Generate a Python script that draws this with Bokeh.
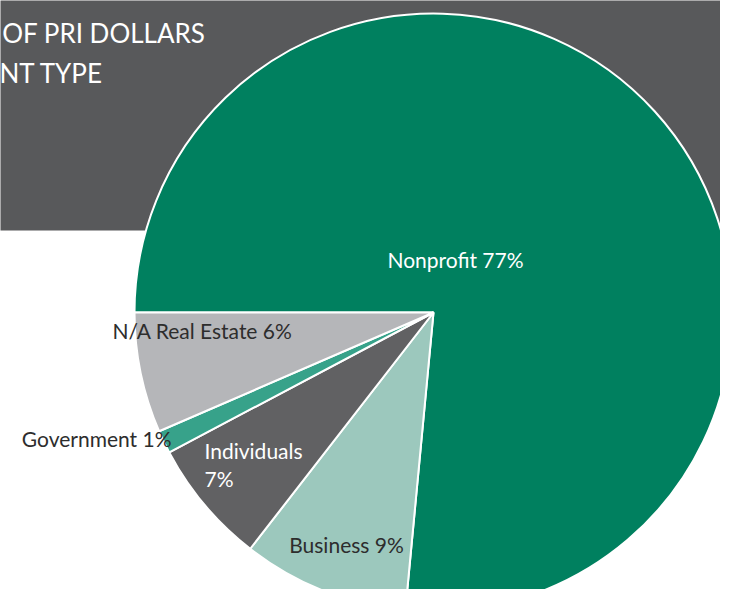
import numpy as np
from bokeh.plotting import figure
from bokeh.models import Range1d, BoxAnnotation
from bokeh.core.properties import value
from bokeh.embed import file_html
from bokeh.resources import INLINE

# ---- data ----
categories = ["Nonprofit", "Business", "Individuals", "Government", "N/A Real Estate"]
shares = [76.5, 9.0, 6.75, 1.25, 6.5]
pct_labels = ["77%", "9%", "7%", "1%", "6%"]
title_lines = ["OF PRI DOLLARS", "NT TYPE"]

# ---- style / layout ----
colors = ["#00805F", "#9CC8BD", "#616163", "#37A28A", "#B5B6B9"]
label_colors = ["white", "#2d2d2d", "white", "#2d2d2d", "#2d2d2d"]
# label anchors in reference pixels (x, first-line anchor y) and alignment
label_x = [455, 346, 204, 171, 202]
label_y = [259, 544, 450, 438, 330]
label_align = ["center", "center", "left", "right", "center"]
label_text = [f"{c} {p}" if c != "Individuals" else f"{c}\n{p}"
              for c, p in zip(categories, pct_labels)]

W, H, M = 736, 605, 8
FW, FH = W - 2 * M, H - 2 * M
CX, CY, R = 433, 312, 299
BANNER_BOTTOM = 230
FONT = "Lato"
LINE_STEP = 28

def Y(py):
    return H - py

p = figure(width=FW, height=FH,
           x_range=Range1d(0, FW), y_range=Range1d(H - FH, H),
           output_backend="svg", toolbar_location=None, min_border=0,
           x_axis_type=None, y_axis_type=None)
p.grid.visible = False
p.outline_line_color = None
p.background_fill_color = "white"
p.border_fill_color = "white"

banner = BoxAnnotation(left=-50, right=W + 50, bottom=Y(BANNER_BOTTOM), top=H + 50,
                       fill_color="#58595B", fill_alpha=1.0, line_alpha=0,
                       level="underlay")
p.add_layout(banner)

# title (cut off at left edge, as in reference)
title_right = [205, 103]
title_base = [32, 72]
for t, xr, yb in zip(title_lines, title_right, title_base):
    p.text(x=[xr], y=[Y(yb)], text=[t], text_font=value(FONT), text_font_size="26px",
           text_color="white", text_align="right", text_baseline="alphabetic")

# pie
vals = np.array(shares, dtype=float)
frac = vals / vals.sum()
cum = np.cumsum(frac)
starts = np.pi - 2 * np.pi * (cum - frac)
ends = np.pi - 2 * np.pi * cum
p.wedge(x=[CX] * len(vals), y=[Y(CY)] * len(vals), radius=R,
        start_angle=list(starts), end_angle=list(ends), direction="clock",
        fill_color=colors, line_color="white", line_width=2)

# labels
for t, x, y, a, c in zip(label_text, label_x, label_y, label_align, label_colors):
    for i, line in enumerate(t.split("\n")):
        p.text(x=[x], y=[Y(y + i * LINE_STEP)], text=[line], text_font=value(FONT),
               text_font_size="21px", text_color=c, text_align=a,
               text_baseline="alphabetic")

open("out.html", "w").write(file_html(p, INLINE))
